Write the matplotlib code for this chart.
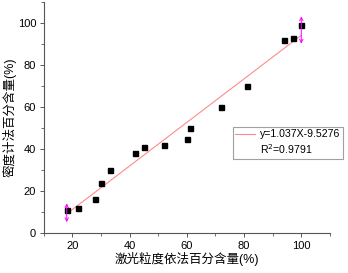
import matplotlib.pyplot as plt
from matplotlib.lines import Line2D
from matplotlib.ticker import MultipleLocator
import numpy as np

plt.rcParams['font.family'] = ['Liberation Sans', 'Noto Sans CJK SC', 'DejaVu Sans']

# 激光粒度依法 vs 密度计法 百分含量
laser = [18, 22, 28, 30, 33, 42, 45, 52, 60, 61, 72, 81, 94, 97, 100]
density = [11, 12, 16, 24, 30, 38, 41, 42, 45, 50, 60, 70, 92, 93, 99]
slope = 1.037
intercept = -9.5276
r2 = 0.9791
x_ticks = [20, 40, 60, 80, 100]
y_ticks = [0, 20, 40, 60, 80, 100]

fig = plt.figure(figsize=(3.48, 2.73), dpi=100)
ax = fig.add_axes([0.126, 0.1465, 0.822, 0.846])

fit_x = np.array([min(laser), max(laser)])
fit_y = slope * fit_x + intercept
ax.plot(fit_x, fit_y, color='#ff8a8a', lw=0.8, zorder=2)
ax.plot(laser, density, 's', color='black', ms=3.6, zorder=3)

# 选中手柄（粉色双箭头）
for xe, ye in zip(fit_x, fit_y):
    ax.annotate('', xy=(xe, ye - 4), xytext=(xe, ye + 5) if xe < 50 else (xe, ye + 9),
                arrowprops=dict(arrowstyle='<->', color='#ff00ff', lw=0.7,
                                mutation_scale=6, shrinkA=0, shrinkB=0))

ax.set_xlim(10, 110)
ax.set_ylim(0, 110)
ax.set_xticks(x_ticks)
ax.set_yticks(y_ticks)
ax.xaxis.set_minor_locator(MultipleLocator(10))
ax.yaxis.set_minor_locator(MultipleLocator(10))
for s in ['top', 'right']:
    ax.spines[s].set_visible(False)
for s in ['left', 'bottom']:
    ax.spines[s].set_color('#555555')
    ax.spines[s].set_linewidth(0.8)
ax.tick_params(which='major', direction='out', length=3, width=0.7, color='#555555',
               labelsize=8, pad=2.5)
ax.tick_params(which='minor', direction='out', length=2, width=0.6, color='#555555')

ax.set_xlabel('激光粒度依法百分含量(%)', fontsize=9, labelpad=1)
ax.set_ylabel('密度计法百分含量(%)', fontsize=9, labelpad=1)

handles = [Line2D([], [], color='#ff8a8a', lw=0.8),
           Line2D([], [], color='none')]
labels = ['y=%.3fX%.4f' % (slope, intercept), 'R$^2$=%.4f' % r2]
leg = ax.legend(handles, labels, loc='upper left', bbox_to_anchor=(0.66, 0.46),
                fontsize=7.6, frameon=True, fancybox=False, edgecolor='#888888',
                handlelength=1.9, handletextpad=0.4, borderpad=0.25, labelspacing=0.3,
                borderaxespad=0)
leg.get_frame().set_linewidth(0.8)

fig.savefig('out.png', dpi=100)
